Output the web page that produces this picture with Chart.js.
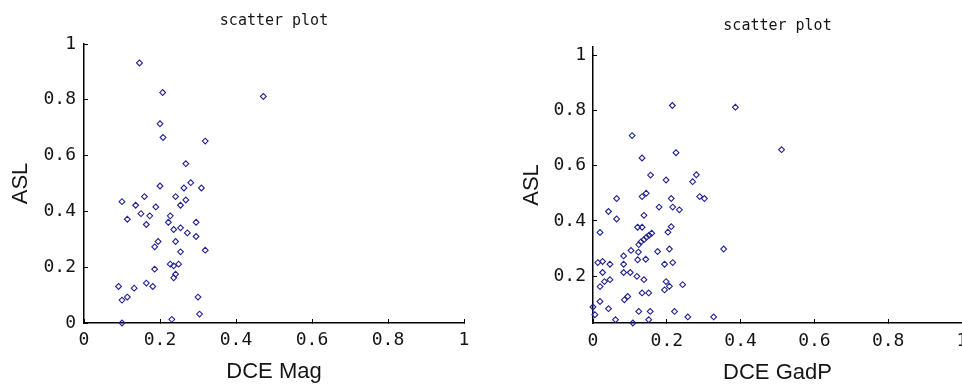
<!DOCTYPE html>
<html>
<head>
<meta charset="utf-8">
<script src="https://cdn.jsdelivr.net/npm/chart.js@4/dist/chart.umd.min.js"></script>
<style>
  html, body { margin: 0; padding: 0; background: #fff; overflow: hidden; }
  canvas { position: absolute; top: 0; }
  #magChart { left: 0; }
  #gadpChart { left: 480px; }
</style>
</head>
<body>
<canvas id="magChart" width="480" height="387"></canvas>
<canvas id="gadpChart" width="482" height="387"></canvas>
<script>
// values
const magX = [0.146, 0.207, 0.472, 0.200, 0.208, 0.319, 0.268, 0.200, 0.281, 0.263,
              0.309, 0.159, 0.241, 0.268, 0.100, 0.136, 0.189, 0.254, 0.150, 0.173,
              0.227, 0.114, 0.222, 0.295, 0.164, 0.254, 0.236, 0.272, 0.295, 0.195,
              0.241, 0.186, 0.319, 0.254, 0.227, 0.249, 0.236, 0.186, 0.241, 0.236,
              0.164, 0.091, 0.181, 0.132, 0.114, 0.300, 0.100, 0.304, 0.231, 0.100];
const magY = [0.932, 0.826, 0.812, 0.714, 0.665, 0.652, 0.571, 0.491, 0.503, 0.484,
              0.484, 0.453, 0.453, 0.441, 0.435, 0.422, 0.416, 0.422, 0.392, 0.384,
              0.384, 0.372, 0.361, 0.361, 0.353, 0.341, 0.335, 0.323, 0.310, 0.292,
              0.292, 0.273, 0.261, 0.255, 0.211, 0.211, 0.205, 0.193, 0.175, 0.162,
              0.143, 0.131, 0.131, 0.125, 0.093, 0.093, 0.082, 0.032, 0.013, 0.000];

const gadpX = [0.215, 0.386, 0.106, 0.511, 0.225, 0.133, 0.156, 0.280, 0.198, 0.270,
               0.133, 0.144, 0.064, 0.212, 0.289, 0.302, 0.179, 0.216, 0.234, 0.042,
               0.138, 0.064, 0.121, 0.133, 0.212, 0.203, 0.019, 0.159, 0.152, 0.145,
               0.138, 0.130, 0.124, 0.103, 0.123, 0.175, 0.207, 0.354, 0.083, 0.121,
               0.143, 0.013, 0.026, 0.046, 0.083, 0.194, 0.216, 0.026, 0.083, 0.101,
               0.119, 0.138, 0.031, 0.046, 0.019, 0.198, 0.243, 0.194, 0.207, 0.133,
               0.151, 0.085, 0.094, 0.019, 0.042, 0.000, 0.124, 0.155, 0.221, 0.005,
               0.257, 0.327, 0.061, 0.151, 0.108];
const gadpY = [0.818, 0.812, 0.709, 0.658, 0.647, 0.628, 0.566, 0.567, 0.548, 0.542,
               0.488, 0.500, 0.481, 0.481, 0.488, 0.481, 0.450, 0.450, 0.440, 0.434,
               0.420, 0.407, 0.377, 0.377, 0.379, 0.359, 0.358, 0.355, 0.348, 0.341,
               0.332, 0.324, 0.314, 0.293, 0.287, 0.289, 0.298, 0.298, 0.273, 0.259,
               0.261, 0.249, 0.253, 0.243, 0.243, 0.243, 0.249, 0.213, 0.213, 0.213,
               0.199, 0.187, 0.180, 0.187, 0.162, 0.180, 0.169, 0.150, 0.163, 0.139,
               0.139, 0.114, 0.126, 0.108, 0.082, 0.088, 0.072, 0.072, 0.072, 0.060,
               0.052, 0.052, 0.042, 0.042, 0.030];

const xTickValues = [0, 0.2, 0.4, 0.6, 0.8, 1];
const yTickValues = [0, 0.2, 0.4, 0.6, 0.8, 1];
const gadpYTickValues = [0.2, 0.4, 0.6, 0.8, 1];

const tickFont = { family: 'DejaVu Sans Mono', size: 18 };
const titleFont = { family: 'DejaVu Sans Mono', size: 15, weight: 'normal' };
const axisFont = { family: 'Liberation Sans', size: 22 };
const ink = '#151515';
const markerColor = '#22228f';

function toPoints(xs, ys) {
  return xs.map((x, i) => ({ x: x, y: ys[i] }));
}

// g = layout numbers for one panel (pixel sizes, not data)
function scatterPanel(id, xs, ys, xTitle, yMin, yMax, yTicks, g) {
  return new Chart(document.getElementById(id), {
    type: 'scatter',
    data: {
      datasets: [{
        data: toPoints(xs, ys),
        pointStyle: 'rectRot',
        pointRadius: 2.9,
        pointBorderWidth: 1.1,
        pointBorderColor: markerColor,
        pointBackgroundColor: 'rgba(0,0,0,0)',
        clip: false
      }]
    },
    options: {
      responsive: false,
      animation: false,
      events: [],
      devicePixelRatio: 1,
      layout: { autoPadding: false, padding: { left: 0, right: g.padRight, top: 0, bottom: 0 } },
      plugins: {
        legend: { display: false },
        tooltip: { enabled: false },
        title: {
          display: true,
          text: 'scatter plot',
          fullSize: false,
          color: ink,
          font: titleFont,
          padding: { top: g.titleTop, bottom: g.titleBottom }
        }
      },
      scales: {
        x: {
          type: 'linear',
          position: 'bottom',
          min: 0,
          max: 1,
          afterBuildTicks: s => { s.ticks = xTickValues.map(v => ({ value: v })); },
          afterFit: s => { s.height = g.xHeight; s.paddingLeft = 0; s.paddingRight = 0; },
          border: { display: true, color: '#000', width: 1.5 },
          grid: { display: true, drawOnChartArea: false, drawTicks: true, tickLength: -4, color: '#000', lineWidth: 1 },
          ticks: { padding: g.xTickPad, color: ink, font: tickFont, maxRotation: 0, autoSkip: false, callback: v => String(v) },
          title: { display: true, text: xTitle, color: ink, font: axisFont, padding: { top: 0, bottom: g.xTitlePad } }
        },
        y: {
          type: 'linear',
          position: 'left',
          min: yMin,
          max: yMax,
          afterBuildTicks: s => { s.ticks = yTicks.map(v => ({ value: v })); },
          afterFit: s => { s.width = g.yWidth; s.paddingTop = 0; s.paddingBottom = 0; },
          border: { display: true, color: '#000', width: 1.5 },
          grid: { display: true, drawOnChartArea: false, drawTicks: true, tickLength: -4, color: '#000', lineWidth: 1 },
          ticks: { padding: g.yTickPad, color: ink, font: tickFont, autoSkip: false, callback: v => String(v) },
          title: { display: true, text: 'ASL', color: ink, font: axisFont, padding: { top: g.yTitlePad, bottom: 0 } }
        }
      }
    }
  });
}

scatterPanel('magChart', magX, magY, 'DCE Mag', 0, 1, yTickValues,
  { padRight: 16, titleTop: 12, titleBottom: 14, xHeight: 64, yWidth: 84,
    xTickPad: 11, yTickPad: 12, xTitlePad: 2, yTitlePad: 8 });

scatterPanel('gadpChart', gadpX, gadpY, 'DCE GadP', 0.03, 1.03, gadpYTickValues,
  { padRight: 0, titleTop: 17, titleBottom: 12, xHeight: 64, yWidth: 113,
    xTickPad: 12, yTickPad: 11, xTitlePad: 1, yTitlePad: 39 });
</script>
</body>
</html>
